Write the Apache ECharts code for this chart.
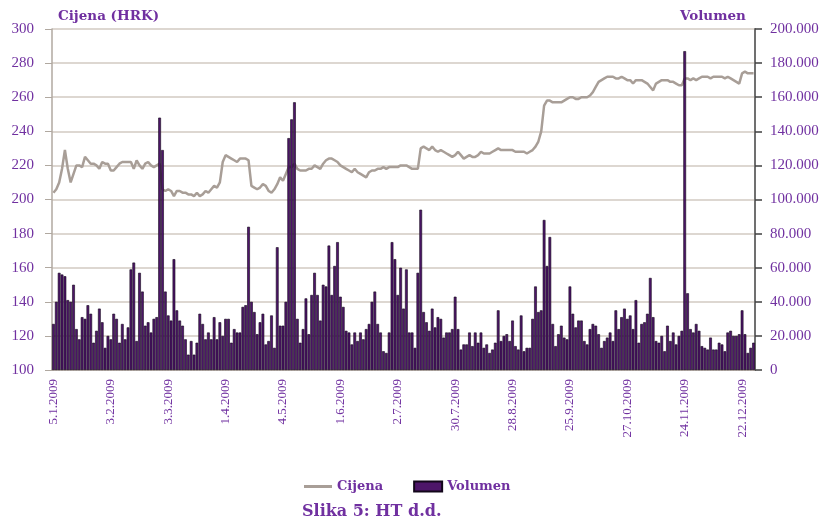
<!DOCTYPE html>
<html><head><meta charset="utf-8">
<script src="https://cdn.jsdelivr.net/npm/echarts@6/dist/echarts.min.js"></script>
<style>html,body{margin:0;padding:0;background:#fff}#c{width:824px;height:521px}</style>
</head><body><div id="c"></div>
<script>
// Tick labels shown every 20 trading days
var tickLabels = ["5.1.2009","3.2.2009","3.3.2009","1.4.2009","4.5.2009","1.6.2009","2.7.2009","30.7.2009","28.8.2009","25.9.2009","27.10.2009","24.11.2009","22.12.2009"];
// Price (HRK), one per trading day
var cijena = [
204,206,210,218,229,218,210,215,220,220, 219,225,223,221,221,220,218,222,221,221,
217,217,219,221,222,222,222,222,218,223, 220,218,221,222,220,219,220,221,
206,205,206,205,202,205,205,204,204,203, 203,202,204,202,203,205,204,206,208,207, 210,
222,226,225,224,223,222,224,224,224,223,
208,207,206,207,209,208,205,204,206,209, 213,211,215,219,219,221,
218,217,217,217,218,218,220,219,218,221, 223,224,224,223,222,220,219,218,217,216,
218,216,215,214,213,216,217,217,218,218, 219,218,219,219,219,219,220,220,
220,219,218,218,218,230,231,230,229,231, 229,228,229,228,227,226,225,226,228,226,
224,225,226,225,225,226,228,227,227,227, 228,229,230,229,229,229,229,229,228,228,
228,228,227,228,229,231,234,240,255,258, 258,257,257,257,257,258,259,260,260,259, 259,
260,260,260,261,263,266,269,270,271,272, 272,272,271,271,272,271,270,270,268,270,
270,270,269,268,266,264,268,269,270,270, 270,269,269,268,267,267,271,271,270,271,
270,271,272,272,272,271,272,272,272,272, 271,272,271,270,269,268,274,275,274,274, 274
];
// Volume (thousands of shares), one per trading day
var volumen = [
27,40,57,56,55,41,40,50,24,18, 31,30,38,33,16,23,36,28,13,20,
18,33,30,16,27,18,25,59,63,17, 57,46,26,28,22,30,31,
148,129,
46,32,29,65,35,29,26,18,9,17, 9,16,33,27,18,22,18,31,18,28, 20,30,
30,16,24,22,22,37,38,
84,
40,34,21,28,33,15,17,32,13,
72,26,26,40,136,147,157,
30,16,24,42,21,44,57,44,29,50, 49,73,44,61,75,43,37,23,22,15,
22,17,22,18,24,27,40,46,27,22, 11,10,22,75,65,44,60,36,
59,22,22,13,57,94,34,28,23,36, 25,31,30,19,22,22,24,43,24,12,
15,15,22,14,22,16,22,13,15,10, 12,16,35,17,20,21,17,29,14,12,
32,11,13,13,30,49,34,
35,88,61,78,27,14,21,26,19,18,49,33,25,29,
29,17,15,24,27,26,21,13,17,19, 22,17,35,24,31,36,30,32,24,41,
16,27,28,33,
54,
31,17,16,20,11,26,17,22,15,20,23,
187,
45,24,22,27,23,14,13,12,19,12, 12,16,15,11,22,23,20,20,21,
35,21,10,13,16
];
var days = volumen.map(function(_, i){ return "d" + i; });

var purple = '#7030a0';
var chart = echarts.init(document.getElementById('c'), null, {renderer:'canvas'});
chart.setOption({
  animation: false,
  backgroundColor: '#fff',
  grid: {left: 52, right: 69, top: 29, bottom: 151},
  legend: {
    left: 299, top: 475, itemGap: 30, itemWidth: 28, itemHeight: 10,
    textStyle: {fontFamily: 'DejaVu Serif', fontWeight: 'bold', fontSize: 13, color: purple},
    data: [
      {name: 'Cijena', icon: 'path://M0,0 L28,0 L28,3 L0,3 Z'},
      {name: 'Volumen', icon: 'rect'}
    ]
  },
  graphic: [
    {type: 'text', left: 58, top: 9, style: {text: 'Cijena (HRK)', fontFamily: 'DejaVu Serif', fontWeight: 'bold', fontSize: 13.5, fill: purple}},
    {type: 'text', left: 680, top: 9, style: {text: 'Volumen', fontFamily: 'DejaVu Serif', fontWeight: 'bold', fontSize: 13.5, fill: purple}},
    {type: 'text', left: 302, top: 504, style: {text: 'Slika 5: HT d.d.', fontFamily: 'DejaVu Serif', fontWeight: 'bold', fontSize: 16, fill: purple}}
  ],
  xAxis: {
    type: 'category', data: days, boundaryGap: true,
    axisLine: {lineStyle: {color: '#a8a098', width: 1.5}},
    axisTick: {interval: 9, length: 5, lineStyle: {color: '#b8b0a8'}},
    axisLabel: {
      interval: 19, rotate: 90, margin: 9, color: purple,
      fontFamily: 'Liberation Serif', fontSize: 13,
      formatter: function(v, idx){ return tickLabels[Math.round(idx/20)] || ''; }
    },
    splitLine: {show: false}
  },
  yAxis: [
    {
      type: 'value', min: 100, max: 300, interval: 20, position: 'left',
      axisLine: {show: true, lineStyle: {color: '#b0a8a0', width: 1.5}},
      axisTick: {show: true, length: 7, lineStyle: {color: '#b0a8a0'}},
      axisLabel: {color: purple, fontFamily: 'Liberation Serif', fontSize: 15, margin: 18},
      splitLine: {show: true, lineStyle: {color: '#d2cac2', width: 1.5}}
    },
    {
      type: 'value', min: 0, max: 200, interval: 20, position: 'right',
      axisLine: {show: true, lineStyle: {color: '#707070', width: 2}},
      axisTick: {show: true, length: 7, lineStyle: {color: '#404040', width: 1.5}},
      axisLabel: {color: purple, fontFamily: 'Liberation Serif', fontSize: 15, margin: 15,
        formatter: function(v){ return v === 0 ? '0' : v + '.000'; }},
      splitLine: {show: false}
    }
  ],
  series: [
    {
      name: 'Cijena', type: 'line', yAxisIndex: 0, data: cijena, z: 2,
      symbol: 'none', lineStyle: {color: '#a89e97', width: 2.5}, itemStyle: {color: '#a89e97'}
    },
    {
      name: 'Volumen', type: 'bar', yAxisIndex: 1, data: volumen, z: 3,
      barCategoryGap: '5%',
      itemStyle: {color: '#4d1569', borderColor: '#12061a', borderWidth: 0.6}
    }
  ]
});
</script></body></html>
